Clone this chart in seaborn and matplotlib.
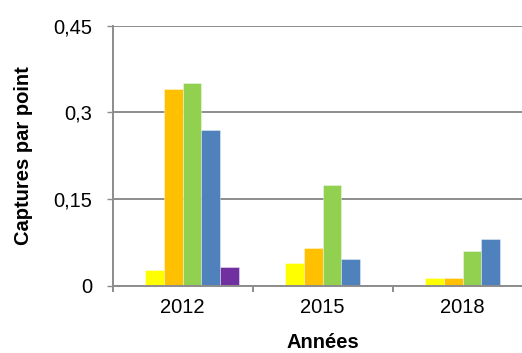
import numpy as np
import pandas as pd
import matplotlib
matplotlib.use("Agg")
import matplotlib.pyplot as plt
from matplotlib.ticker import FixedLocator, FuncFormatter
import seaborn as sns

# Catch rate per sampling point, by year and group
years = ["2012", "2015", "2018"]
series = ["Groupe 0", "Groupe 1", "Groupe 2", "Groupe 3", "Groupe 4", "Groupe 5"]
groupe_0 = [0.0, 0.0, 0.0]
groupe_1 = [0.027, 0.040, 0.013]
groupe_2 = [0.340, 0.066, 0.013]
groupe_3 = [0.350, 0.174, 0.060]
groupe_4 = [0.270, 0.046, 0.080]
groupe_5 = [0.032, 0.0, 0.0]
colors = ["#FFFFFF", "#FFFF00", "#FFC000", "#92D050", "#4F81BD", "#7030A0"]
y_ticks = [0, 0.15, 0.3, 0.45]

values = [groupe_0, groupe_1, groupe_2, groupe_3, groupe_4, groupe_5]
df = pd.DataFrame(
    [(y, s, v[i]) for s, v in zip(series, values) for i, y in enumerate(years)],
    columns=["Années", "Série", "Captures"],
)

sns.set_theme(style="white")
plt.rcParams["font.family"] = ["Liberation Sans", "DejaVu Sans"]

FS = 14.5

fig = plt.figure(figsize=(5.22, 3.53), dpi=100)
ax = fig.add_axes([112.7 / 522, 67.3 / 353, 420 / 522, 260 / 353])

sns.barplot(
    data=df, x="Années", y="Captures", hue="Série",
    order=years, hue_order=series, palette=colors,
    width=0.8, dodge=True, legend=False, ax=ax,
    edgecolor=(1, 1, 1, 0.45), linewidth=0.6, saturation=1,
)

grid_color = "#8C8C8C"
ax.set_ylim(0, 0.45)
ax.set_xlim(-0.5, 2.5)
ax.yaxis.set_major_locator(FixedLocator(y_ticks))
ax.yaxis.set_major_formatter(
    FuncFormatter(lambda v, _: ("%g" % round(v, 2)).replace(".", ","))
)
ax.grid(axis="y", color=grid_color, linewidth=1.4)
ax.set_axisbelow(True)

for side in ["top", "right"]:
    ax.spines[side].set_visible(False)
for side in ["left", "bottom"]:
    ax.spines[side].set_color(grid_color)
    ax.spines[side].set_linewidth(1.4)

ax.tick_params(axis="y", left=True, length=4.5, width=1, color=grid_color,
               pad=10, labelsize=FS, labelcolor="black")
ax.tick_params(axis="x", which="major", length=0, pad=8.5, labelsize=FS,
               labelcolor="black")
ax.set_xticks([-0.5, 0.5, 1.5, 2.5], minor=True)
ax.tick_params(axis="x", which="minor", bottom=True, length=4.5, width=1.4,
               color=grid_color)

ax.set_ylabel("Captures par point", fontsize=FS, fontweight="bold", color="black")
ax.set_xlabel("Années", fontsize=FS, fontweight="bold", color="black")
ax.yaxis.set_label_coords(-0.19, 0.5)
ax.xaxis.label.set_verticalalignment("baseline")
ax.xaxis.set_label_coords(0.5, -0.24)

fig.savefig("out.png", dpi=100)
